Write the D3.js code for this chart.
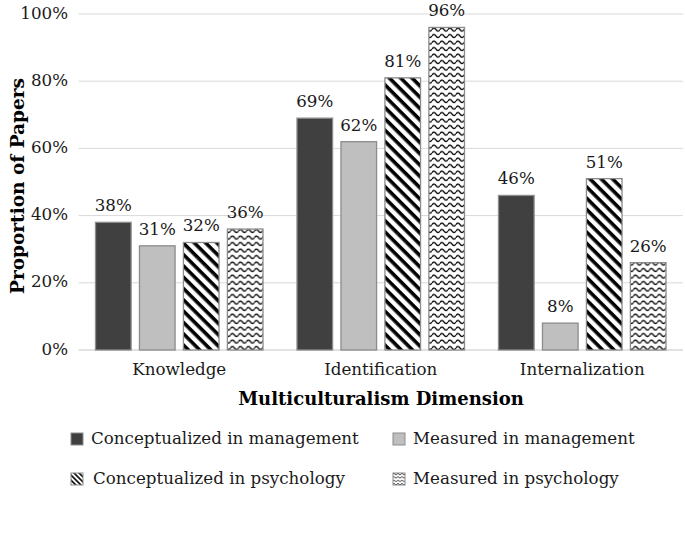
<!DOCTYPE html>
<html lang="en">
<head>
<meta charset="UTF-8">
<title>Multiculturalism Dimension</title>
<style>
  body { margin: 0; background: #fff; }
  svg { display: block; font-family: 'DejaVu Serif', serif; }
  .tick-label, .val-label, .cat-label, .legend-label { fill: #1a1a1a; }
  .axis-title { font-weight: bold; fill: #000; }
</style>
</head>
<body>
<svg id="chart" width="685" height="536"></svg>
<script src="https://cdn.jsdelivr.net/npm/d3@7"></script>
<script>
// data
var categories = ['Knowledge', 'Identification', 'Internalization'];
var seriesNames = ['Conceptualized in management', 'Measured in management',
                   'Conceptualized in psychology', 'Measured in psychology'];
var conceptMgmt = [0.38, 0.69, 0.46];
var measuredMgmt = [0.31, 0.62, 0.08];
var conceptPsych = [0.32, 0.81, 0.51];
var measuredPsych = [0.36, 0.96, 0.26];
var yTicks = [0, 0.2, 0.4, 0.6, 0.8, 1.0];

var seriesValues = [conceptMgmt, measuredMgmt, conceptPsych, measuredPsych];
var fills = ['#404040', '#bfbfbf', 'url(#stripes)', 'url(#waves)'];
var legendFills = ['#404040', '#bfbfbf', 'url(#stripesSm)', 'url(#wavesSm)'];

var svg = d3.select('#chart');
var plotL = 78.5, plotR = 683, plotT = 14, plotB = 350;
var fs = 16.7;

// patterns (bars and a finer copy for the legend keys)
var defs = svg.append('defs');
function addStripes(id, s) {
  var p = defs.append('pattern')
      .attr('id', id)
      .attr('patternUnits', 'userSpaceOnUse')
      .attr('width', s).attr('height', s)
      .attr('patternTransform', 'rotate(45)');
  p.append('rect').attr('width', s).attr('height', s).attr('fill', '#fff');
  p.append('rect').attr('width', s).attr('height', s * 0.45).attr('fill', '#000');
}
function addWaves(id, w, h, sw) {
  var p = defs.append('pattern')
      .attr('id', id)
      .attr('patternUnits', 'userSpaceOnUse')
      .attr('width', w).attr('height', h);
  p.append('rect').attr('width', w).attr('height', h).attr('fill', '#fff');
  p.append('path')
      .attr('d', 'M0,' + h * 0.55 + ' Q' + w / 4 + ',' + h * 0.08 + ' ' + w / 2 + ',' + h * 0.55 +
                 ' T' + w + ',' + h * 0.55)
      .attr('fill', 'none').attr('stroke', '#000').attr('stroke-width', sw);
}
addStripes('stripes', 8);
addStripes('stripesSm', 3.6);
addWaves('waves', 8, 6.5, 1.4);
addWaves('wavesSm', 4, 3.4, 0.8);

var y = d3.scaleLinear().domain([0, 1]).range([plotB, plotT]);
var x0 = d3.scaleBand().domain(categories).range([plotL, plotR]);
var groupW = 167.5;
var x1 = d3.scaleBand().domain(d3.range(4))
    .range([(x0.bandwidth() - groupW) / 2, (x0.bandwidth() + groupW) / 2])
    .paddingInner(0.19).paddingOuter(0);

// grid lines
svg.append('g').selectAll('line')
  .data(yTicks)
  .join('line')
    .attr('x1', plotL).attr('x2', plotR)
    .attr('y1', d => y(d)).attr('y2', d => y(d))
    .attr('stroke', '#d9d9d9')
    .attr('stroke-width', d => d === 0 ? 1.5 : 1);

// y tick labels
svg.append('g').selectAll('text')
  .data(yTicks)
  .join('text')
    .attr('class', 'tick-label')
    .attr('x', 68).attr('y', d => y(d))
    .attr('text-anchor', 'end')
    .attr('dominant-baseline', 'middle')
    .attr('font-size', fs)
    .text(d => d3.format('.0%')(d));

// bars
var groups = svg.append('g').selectAll('g')
  .data(categories)
  .join('g')
    .attr('transform', d => 'translate(' + x0(d) + ',0)');

groups.selectAll('rect')
  .data((c, ci) => seriesValues.map((vals, si) => ({si: si, v: vals[ci]})))
  .join('rect')
    .attr('x', d => x1(d.si))
    .attr('width', x1.bandwidth())
    .attr('y', d => y(d.v))
    .attr('height', d => y(0) - y(d.v))
    .attr('fill', d => fills[d.si])
    .attr('stroke', '#8c8c8c')
    .attr('stroke-width', 1.3);

groups.selectAll('text')
  .data((c, ci) => seriesValues.map((vals, si) => ({si: si, v: vals[ci]})))
  .join('text')
    .attr('class', 'val-label')
    .attr('x', d => x1(d.si) + x1.bandwidth() / 2)
    .attr('y', d => y(d.v) - 11)
    .attr('text-anchor', 'middle')
    .attr('font-size', fs)
    .text(d => d3.format('.0%')(d.v));

// category labels
svg.append('g').selectAll('text')
  .data(categories)
  .join('text')
    .attr('class', 'cat-label')
    .attr('x', d => x0(d) + x0.bandwidth() / 2)
    .attr('y', 375)
    .attr('text-anchor', 'middle')
    .attr('font-size', fs)
    .text(d => d);

// axis titles
svg.append('text')
    .attr('class', 'axis-title')
    .attr('x', 381).attr('y', 405)
    .attr('text-anchor', 'middle')
    .attr('font-size', 18)
    .text('Multiculturalism Dimension');

svg.append('text')
    .attr('class', 'axis-title')
    .attr('transform', 'translate(24,' + 186 + ') rotate(-90)')
    .attr('text-anchor', 'middle')
    .attr('font-size', 18.5)
    .text('Proportion of Papers');

// legend
var legendPos = [[71, 439], [393, 439], [71, 479], [393, 479]];
var legend = svg.append('g').selectAll('g')
  .data(seriesNames)
  .join('g')
    .attr('transform', (d, i) => 'translate(' + legendPos[i][0] + ',' + legendPos[i][1] + ')');

legend.append('rect')
    .attr('x', 0).attr('y', -6)
    .attr('width', 12).attr('height', 12)
    .attr('fill', (d, i) => legendFills[i])
    .attr('stroke', '#8c8c8c')
    .attr('stroke-width', 1);

legend.append('text')
    .attr('class', 'legend-label')
    .attr('x', (d, i) => i === 2 ? 22 : 20)
    .attr('y', 0)
    .attr('dominant-baseline', 'middle')
    .attr('font-size', fs)
    .text(d => d);
</script>
</body>
</html>
